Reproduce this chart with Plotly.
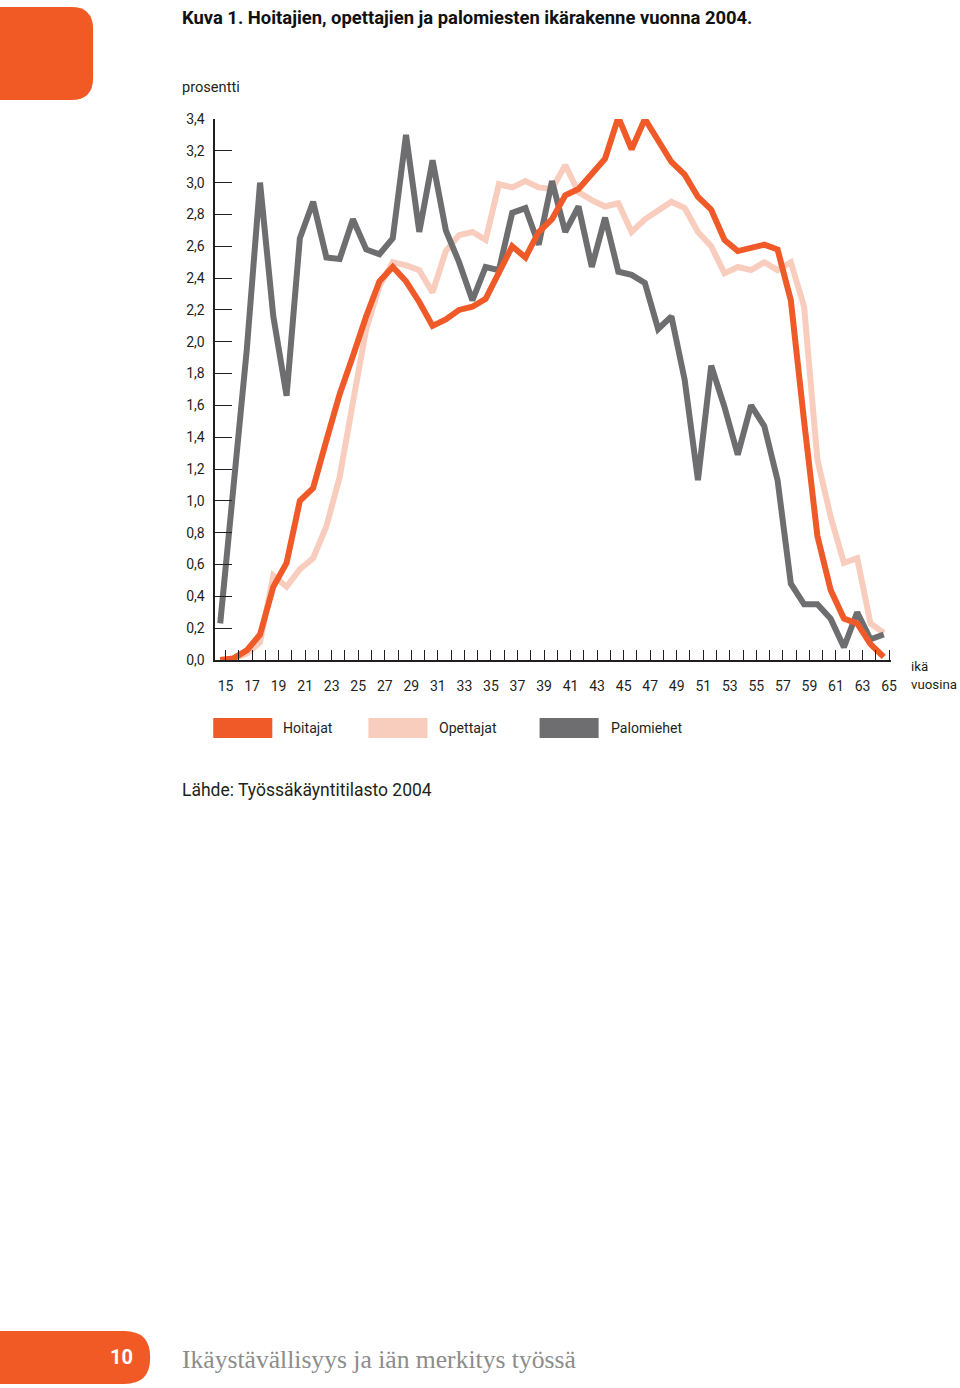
import plotly.graph_objects as go

W, H = 960, 1388

# ---------------- data ----------------
ages = list(range(15, 66))

hoitajat = [0.00, 0.01, 0.06, 0.16, 0.46, 0.61, 1.00, 1.08, 1.38, 1.67,
            1.91, 2.16, 2.38, 2.47, 2.38, 2.25, 2.10, 2.14, 2.20, 2.22,
            2.27, 2.43, 2.60, 2.53, 2.69, 2.77, 2.92, 2.96, 3.05, 3.15,
            3.41, 3.21, 3.40, 3.27, 3.13, 3.05, 2.91, 2.83, 2.64, 2.57,
            2.59, 2.61, 2.58, 2.26, 1.50, 0.78, 0.44, 0.26, 0.23, 0.10,
            0.02]

opettajat = [0.00, 0.01, 0.04, 0.11, 0.53, 0.46, 0.57, 0.64, 0.84, 1.15,
             1.62, 2.08, 2.35, 2.50, 2.48, 2.45, 2.31, 2.57, 2.67, 2.69,
             2.64, 2.99, 2.97, 3.01, 2.97, 2.96, 3.11, 2.94, 2.89, 2.85,
             2.87, 2.69, 2.77, 2.83, 2.88, 2.84, 2.69, 2.60, 2.43, 2.47,
             2.45, 2.50, 2.45, 2.50, 2.22, 1.26, 0.90, 0.61, 0.64, 0.23,
             0.17]

palomiehet = [0.23, 1.06, 1.95, 3.00, 2.16, 1.66, 2.65, 2.88, 2.53, 2.52,
              2.77, 2.58, 2.55, 2.65, 3.30, 2.69, 3.14, 2.70, 2.50, 2.26,
              2.47, 2.45, 2.81, 2.84, 2.61, 3.01, 2.69, 2.85, 2.47, 2.78,
              2.44, 2.42, 2.37, 2.08, 2.16, 1.76, 1.13, 1.85, 1.59, 1.29,
              1.60, 1.47, 1.13, 0.48, 0.35, 0.35, 0.26, 0.08, 0.30, 0.13,
              0.16]

series_names = ["Hoitajat", "Opettajat", "Palomiehet"]
series_colors = {"Hoitajat": "#F05A28", "Opettajat": "#F9CDBD", "Palomiehet": "#6E6E70"}
series_values = {"Hoitajat": hoitajat, "Opettajat": opettajat, "Palomiehet": palomiehet}
draw_order = ["Opettajat", "Palomiehet", "Hoitajat"]

y_tick_values = [0.0, 0.2, 0.4, 0.6, 0.8, 1.0, 1.2, 1.4, 1.6, 1.8,
                 2.0, 2.2, 2.4, 2.6, 2.8, 3.0, 3.2, 3.4]
y_tick_labels = ["0,0", "0,2", "0,4", "0,6", "0,8", "1,0", "1,2", "1,4", "1,6", "1,8",
                 "2,0", "2,2", "2,4", "2,6", "2,8", "3,0", "3,2", "3,4"]
x_tick_labels = [str(a) if a % 2 == 1 else "" for a in ages]

title = "Kuva 1. Hoitajien, opettajien ja palomiesten ikärakenne vuonna 2004."
y_title = "prosentti"
x_title = ["ikä", "vuosina"]
source = "Lähde: Työssäkäyntitilasto 2004"
page_no = "10"
footer = "Ikäystävällisyys ja iän merkitys työssä"

# ---------------- helpers ----------------
# The photographed page lands slightly scaled/offset, so page-pixel targets
# are converted to figure fractions with a small correction.
SX, SY, OY = 0.9927, 0.9885, 8.0

def px(x):
    return (x / SX) / W

def py(y):
    return 1 - ((y - OY) / SY) / H

FONT = "Roboto"
TXT = "#231F20"

fig = go.Figure()
for name in draw_order:
    fig.add_trace(go.Scatter(
        x=ages, y=series_values[name], mode="lines", name=name,
        line=dict(color=series_colors[name], width=6),
        cliponaxis=False, showlegend=False, hoverinfo="skip",
    ))

# tick marks in the original sit slightly right of the data points
tick_shift = 0.4

fig.update_layout(
    width=W, height=H, autosize=False,
    margin=dict(l=0, r=0, t=0, b=0),
    paper_bgcolor="white", plot_bgcolor="white",
    showlegend=False,
    xaxis=dict(
        domain=[px(215), px(889.7)], range=[14.623, 65.52],
        tickvals=[a + tick_shift for a in ages], ticktext=x_tick_labels,
        ticks="inside", ticklen=10, tickwidth=1.3, tickcolor=TXT,
        showline=True, linecolor=TXT, linewidth=1.5,
        showgrid=False, zeroline=False,
        tickfont=dict(family=FONT, size=14, color=TXT),
        ticklabelstandoff=12,
    ),
    yaxis=dict(
        domain=[py(660), py(119)], range=[0, 3.4],
        tickvals=y_tick_values, ticktext=y_tick_labels,
        ticks="inside", ticklen=17, tickwidth=1.3, tickcolor=TXT,
        showline=True, linecolor=TXT, linewidth=1.5,
        showgrid=False, zeroline=False,
        tickfont=dict(family=FONT, size=14, color=TXT),
        ticklabelstandoff=6,
    ),
)

def tab_path(x1, y0, y1, r):
    return (f"M {px(-20)},{py(y0)} L {px(x1 - r)},{py(y0)} "
            f"Q {px(x1)},{py(y0)} {px(x1)},{py(y0 + r)} "
            f"L {px(x1)},{py(y1 - r)} Q {px(x1)},{py(y1)} {px(x1 - r)},{py(y1)} "
            f"L {px(-20)},{py(y1)} Z")

shapes = [
    dict(type="path", xref="paper", yref="paper", path=tab_path(93, 7, 100, 22),
         fillcolor="#F15A24", line=dict(width=0), layer="below"),
    dict(type="path", xref="paper", yref="paper", path=tab_path(150, 1331, 1384, 26),
         fillcolor="#F15A24", line=dict(width=0), layer="below"),
]

# legend swatches
legend_swatch_x = {"Hoitajat": 213, "Opettajat": 368, "Palomiehet": 539}
legend_text_x = {"Hoitajat": 281, "Opettajat": 437, "Palomiehet": 608}
for name in series_names:
    sx = legend_swatch_x[name]
    shapes.append(dict(type="rect", xref="paper", yref="paper",
                       x0=px(sx), x1=px(sx + 59), y0=py(738), y1=py(718),
                       fillcolor=series_colors[name], line=dict(width=0)))
fig.update_layout(shapes=shapes)

ann = []
def text(x, y, s, size=14, color=TXT, family=FONT, bold=False, xanchor="left"):
    ann.append(dict(x=px(x), y=py(y), xref="paper", yref="paper", text=(f"<b>{s}</b>" if bold else s),
                    showarrow=False, xanchor=xanchor, yanchor="middle",
                    font=dict(family=family, size=size, color=color)))

text(179.5, 18, title, size=18.4, bold=True, color="#111111")
text(179.5, 87, y_title, size=14.6)
text(908, 667, x_title[0], size=13.3)
text(908, 685, x_title[1], size=13.3)
for name in series_names:
    text(legend_text_x[name], 728, name, size=14.1)
text(179.5, 790, source, size=17.5)
text(121, 1357, page_no, size=20, bold=True, color="white", xanchor="center")
text(179.5, 1360, footer, size=25.6, color="#8C8C8C", family="Liberation Serif")
fig.update_layout(annotations=ann)

pin_page = (
    "document.documentElement.style.margin='0';"
    "document.documentElement.style.overflow='hidden';"
    "document.body.style.margin='0';"
    "document.body.style.overflow='hidden';"
    "var d=document.getElementById('{plot_id}');"
    "d.style.position='fixed';d.style.left='0';d.style.top='0';"
)

fig.write_html(
    "out.html",
    config={"displayModeBar": False},
    post_script=pin_page,
)
